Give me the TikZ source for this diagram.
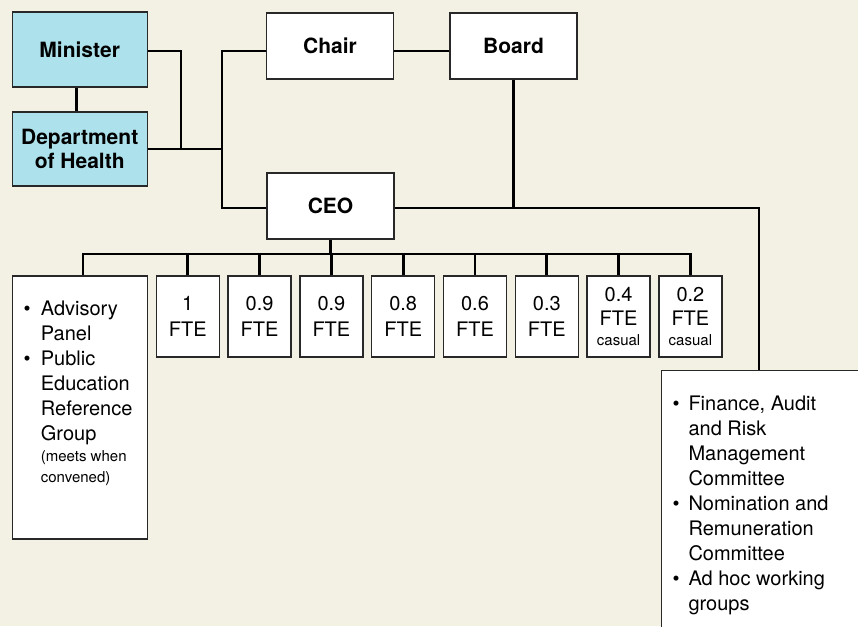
\documentclass[tikz,border=0pt]{standalone}
\usepackage{fontspec}
\setmainfont{TeX Gyre Heros}
\definecolor{bgc}{RGB}{243,240,228}
\definecolor{bluec}{RGB}{173,225,235}
\definecolor{edgec}{RGB}{40,40,40}
\tikzset{
  box/.style={draw=edgec, line width=1.4pt, fill=white, inner sep=0pt},
  topbox/.style={box, minimum width=127pt, minimum height=66pt, align=center,
    font=\bfseries\fontsize{21}{23.5}\selectfont},
  bluebox/.style={topbox, fill=bluec, minimum width=135pt, minimum height=75pt},
  ftebox/.style={box, minimum width=63pt, minimum height=81pt, align=center,
    font=\fontsize{20}{25.6}\selectfont},
  casualbox/.style={ftebox, font=\fontsize{20}{24.3}\selectfont},
  listtxt/.style={inner sep=0pt, anchor=base west, font=\fontsize{20}{25}\selectfont},
  conn/.style={line width=2.7pt, black, line join=miter},
}
\newcommand{\bul}[1]{\makebox[#1][l]{\textbullet}}
\begin{document}
\begin{tikzpicture}[x=1pt,y=-1pt]
\clip (0,0) rectangle (858,626);
\fill[bgc] (0,0) rectangle (858,626);

% top level boxes
\node[bluebox] (min) at (79.7,49.5) {Minister};
\node[bluebox, minimum height=74pt] (dept) at (79.7,149) {Department\\of Health};
\node[topbox] (chair) at (330,46) {Chair};
\node[topbox] (board) at (513.5,46) {Board};
\node[topbox] (ceo) at (330.5,206) {CEO};

% second level
\node[box, minimum width=135pt, minimum height=263pt] (adv) at (79.8,407.5) {};
\node[ftebox] (f1) at (187.8,316.5) {1\\FTE};
\node[ftebox] (f2) at (259.6,316.5) {0.9\\FTE};
\node[ftebox] (f3) at (331.4,316.5) {0.9\\FTE};
\node[ftebox] (f4) at (403.2,316.5) {0.8\\FTE};
\node[ftebox] (f5) at (475.0,316.5) {0.6\\FTE};
\node[ftebox] (f6) at (546.8,316.5) {0.3\\FTE};
\node[casualbox] (f7) at (618.6,316.5) {0.4\\FTE\\[-4pt]{\fontsize{15}{18}\selectfont casual}};
\node[casualbox] (f8) at (690.4,316.5) {0.2\\FTE\\[-4pt]{\fontsize{15}{18}\selectfont casual}};
\node[box, anchor=north west, minimum width=260pt, minimum height=300pt] (comm) at (661,370) {};

% list texts
\node[listtxt] (advl) at (23.5,315) {\begin{tabular}[t]{@{}l@{}l@{}}
\bul{17.2pt}&Advisory\\
&Panel\\
\bul{17.2pt}&Public\\
&Education\\
&Reference\\
&Group\\[-3.4pt]
&\fontsize{15}{18}\selectfont (meets when\\[-4.2pt]
&\fontsize{15}{18}\selectfont convened)
\end{tabular}};
\node[listtxt] (comml) at (672.5,410) {\begin{tabular}[t]{@{}l@{}l@{}}
\bul{15.8pt}&Finance, Audit\\
&and Risk\\
&Management\\
&Committee\\
\bul{15.8pt}&Nomination and\\
&Remuneration\\
&Committee\\
\bul{15.8pt}&Ad hoc working\\
&groups
\end{tabular}};

% junction coordinates
\coordinate (jm) at (181,51);
\coordinate (jt) at (222,51);
\coordinate (jb) at (222,208);
\coordinate (cr) at (759,208);
\coordinate (bl) at (83,254);
\coordinate (br) at (690.4,254);

% connectors
\draw[conn] ([xshift=-3pt]min.south) -- ([xshift=-3pt]dept.north);
\draw[conn] (min.east |- jm) -- (jm) -- (jm |- dept.east);
\draw[conn] (dept.east) -- (jt |- dept.east);
\draw[conn] (chair.west |- jt) -- (jt) -- (jb) -- (jb -| ceo.west);
\draw[conn] (chair.east |- jt) -- (board.west |- jt);
\draw[conn] (board.south) -- (board.south |- cr);
\draw[conn] (jb -| ceo.east) -- (cr) -- (cr |- comm.north);
\draw[conn] (ceo.south) -- (ceo.south |- bl);
\draw[conn] (bl |- adv.north) -- (bl) -- (br) -- (br |- f8.north);
\foreach \n in {f1,f2,f3,f4,f5,f6,f7}{
  \draw[conn] (\n.north) -- (\n.north |- bl);
}
\end{tikzpicture}
\end{document}
